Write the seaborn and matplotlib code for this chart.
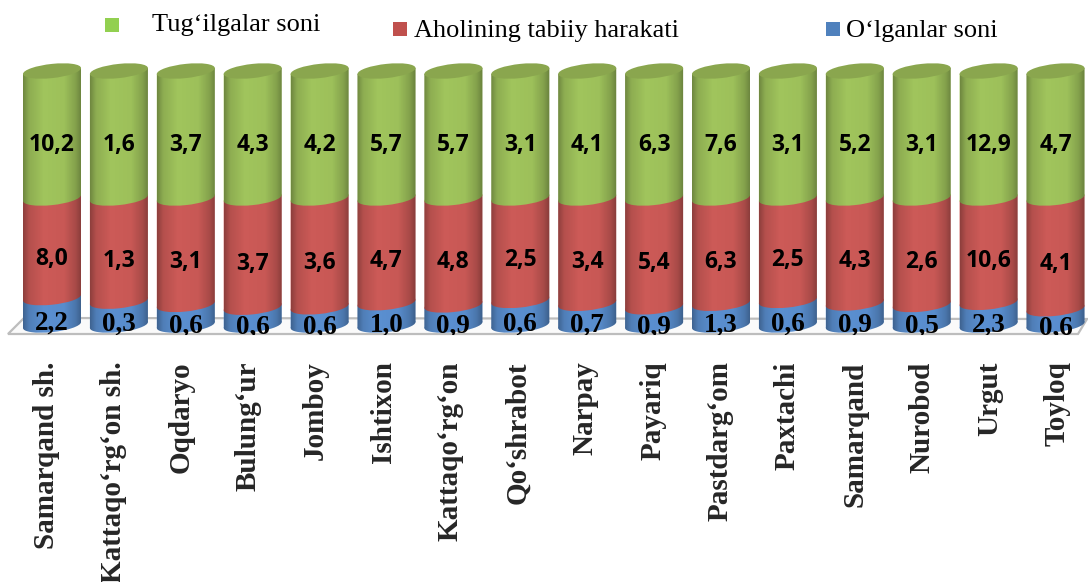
import matplotlib
matplotlib.use("Agg")
import matplotlib.pyplot as plt
import numpy as np
import seaborn as sns
from matplotlib.patches import Ellipse, Polygon, Rectangle, PathPatch
from matplotlib.path import Path
from matplotlib.transforms import Affine2D

tumanlar = ["Samarqand sh.", "Kattaqo‘rg‘on sh.", "Oqdaryo", "Bulung‘ur", "Jomboy", "Ishtixon",
            "Kattaqo‘rg‘on", "Qo‘shrabot", "Narpay", "Payariq", "Pastdarg‘om", "Paxtachi",
            "Samarqand", "Nurobod", "Urgut", "Toyloq"]
tugilgan = [10.2, 1.6, 3.7, 4.3, 4.2, 5.7, 5.7, 3.1, 4.1, 6.3, 7.6, 3.1, 5.2, 3.1, 12.9, 4.7]
tabiiy = [8.0, 1.3, 3.1, 3.7, 3.6, 4.7, 4.8, 2.5, 3.4, 5.4, 6.3, 2.5, 4.3, 2.6, 10.6, 4.1]
olgan = [2.2, 0.3, 0.6, 0.6, 0.6, 1.0, 0.9, 0.6, 0.7, 0.9, 1.3, 0.6, 0.9, 0.5, 2.3, 0.6]

GREEN = "#a0c45c"
RED = "#cc5a57"
BLUE = "#5a8fd0"
CAP = "#8aa64e"
W, H = 1088, 582
BAR_W = 0.867
CAP_H = 2.8   # half height of the ellipses, in percent units
SKEW = 2.7    # tilt of the cylinders


def px(x, y):
    return x / W, 1 - y / H


def fmt(v):
    return f"{v:.1f}".replace(".", ",")


def main():
    sns.set_style("white")
    plt.rcParams["font.family"] = ["Liberation Serif", "DejaVu Serif"]

    fig = plt.figure(figsize=(W / 100, H / 100), dpi=100)
    ax = fig.add_axes([0, 1 - 335 / H, 1, (335 - 50) / H])
    ax.patch.set_visible(False)

    # Floor
    floor = Polygon([px(8, 334), px(24, 318), px(1087, 319), px(1078, 334)], closed=True,
                    transform=fig.transFigure, facecolor="#fafafa", edgecolor="#bdbdbd",
                    linewidth=1.6, zorder=-1)
    fig.add_artist(floor)

    total = np.array(tugilgan) + np.array(tabiiy) + np.array(olgan)
    shares = [np.array(v) / total * 100 for v in (olgan, tabiiy, tugilgan)]
    colors = [BLUE, RED, GREEN]
    skews = [Affine2D(np.array([[1, 0, 0], [SKEW, 1, -SKEW * i], [0, 0, 1]])) + ax.transData
             for i in range(len(tumanlar))]

    bottom = np.zeros(len(tumanlar))
    for k, (share, color) in enumerate(zip(shares, colors)):
        before = len(ax.patches)
        sns.barplot(x=tumanlar, y=share, bottom=bottom, color=color, saturation=1,
                    width=BAR_W, linewidth=0, ax=ax, zorder=2 + k)
        for i, bar in enumerate(ax.patches[before:]):
            bar.set_transform(skews[i])
            ax.add_patch(Ellipse((i, bottom[i]), BAR_W, 2 * CAP_H, facecolor=color, linewidth=0,
                                 zorder=2 + k, transform=skews[i]))
        bottom = bottom + share

    # Round shading and the top caps
    shade = np.interp(np.linspace(0, 1, 64), [0, 0.1, 0.35, 0.7, 0.9, 1], [0.3, 0.12, 0, 0.02, 0.18, 0.34])
    rgba = np.zeros((1, 64, 4))
    rgba[0, :, 3] = shade
    t = np.linspace(np.pi, 2 * np.pi, 40)
    for i in range(len(tumanlar)):
        xs = BAR_W / 2 * np.cos(t)
        ys = CAP_H * np.sin(t)
        outline = np.vstack([np.column_stack([i + xs, ys]), [i + BAR_W / 2, 100], [i - BAR_W / 2, 100]])
        clip = PathPatch(Path(np.vstack([outline, outline[0]])), facecolor="none", linewidth=0, transform=skews[i])
        ax.add_patch(clip)
        im = ax.imshow(rgba, extent=(i - BAR_W / 2, i + BAR_W / 2, -10, 105), aspect="auto", zorder=6)
        im.set_clip_path(clip)
        ax.add_patch(Ellipse((i, 100), BAR_W, 2 * CAP_H, facecolor=CAP, linewidth=0, zorder=7, transform=skews[i]))

    # Data labels
    low = np.zeros(len(tumanlar))
    for k, (share, vals) in enumerate(zip(shares, (olgan, tabiiy, tugilgan))):
        for i, v in enumerate(vals):
            mid = low[i] + share[i] / 2
            if k == 0:
                ax.text(i, mid - 4.5, fmt(v), ha="center", va="center", fontsize=19.5, fontweight="bold",
                        family="Liberation Serif", color="black", zorder=8, clip_on=True)
            else:
                ax.text(i, mid - 4.3, fmt(v), ha="center", va="center", fontsize=16.5, fontweight="bold",
                        family="Open Sans", color="black", zorder=8)
        low = low + share

    ax.set_xlim(-52 / 66.9, (W - 52) / 66.9)
    ax.set_ylim(-10 / 2.54, 275 / 2.54)
    ax.set_xlabel("")
    ax.set_ylabel("")
    ax.set_yticks([])
    # tick labels sit a bit left of the bars and spread slightly wider
    ax.set_xticks([(46 + 67.4 * i - 52) / 66.9 for i in range(len(tumanlar))])
    ax.set_xticklabels(tumanlar, rotation=90, fontsize=21, fontweight="bold", va="top", ha="center")
    ax.tick_params(axis="x", length=0, pad=19)
    sns.despine(ax=ax, left=True, bottom=True)

    # Legend
    fig.add_artist(Rectangle(px(105, 32), 14 / W, 14 / H, transform=fig.transFigure, facecolor="#92d050", linewidth=0))
    fig.add_artist(Rectangle(px(393, 36), 14 / W, 14 / H, transform=fig.transFigure, facecolor="#c0504d", linewidth=0))
    fig.add_artist(Rectangle(px(826, 36), 14 / W, 14 / H, transform=fig.transFigure, facecolor="#4f81bd", linewidth=0))
    for x, y, label in [(152, 25, "Tug‘ilgalar soni"), (414, 31, "Aholining tabiiy harakati"), (846, 31, "O‘lganlar soni")]:
        fig.text(*px(x, y), label, fontsize=19, va="center", ha="left", color="black")

    fig.savefig("out.png", dpi=100)


if __name__ == "__main__":
    main()
